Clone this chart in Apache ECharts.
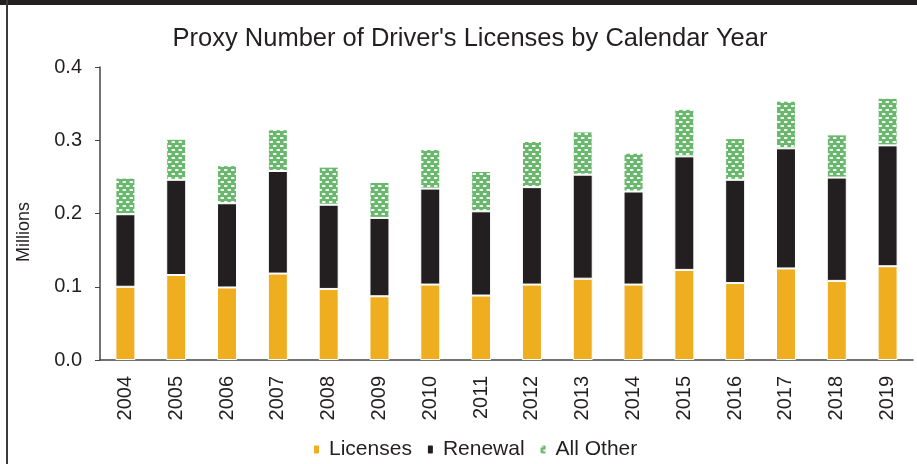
<!DOCTYPE html>
<html>
<head>
<meta charset="utf-8">
<script src="https://cdn.jsdelivr.net/npm/echarts@6/dist/echarts.min.js"></script>
<style>
  html, body { margin: 0; padding: 0; background: #fff; }
  #main { width: 917px; height: 464px; }
</style>
</head>
<body>
<div id="main"></div>
<script>
var years = ['2004', '2005', '2006', '2007', '2008', '2009', '2010', '2011',
             '2012', '2013', '2014', '2015', '2016', '2017', '2018', '2019'];
// millions
var licenses = [0.100, 0.116, 0.099, 0.118, 0.097, 0.087, 0.103, 0.088,
                0.103, 0.111, 0.103, 0.123, 0.105, 0.125, 0.108, 0.128];
var renewal = [0.099, 0.130, 0.115, 0.140, 0.115, 0.107, 0.131, 0.115,
               0.133, 0.142, 0.127, 0.155, 0.141, 0.164, 0.141, 0.165];
var allOther = [0.050, 0.056, 0.052, 0.057, 0.052, 0.049, 0.054, 0.055,
                0.063, 0.059, 0.053, 0.065, 0.057, 0.065, 0.059, 0.065];
var yTicks = ['0.0', '0.1', '0.2', '0.3', '0.4'];

var txt = '#231f20';
var font = 'Liberation Sans, Arial, sans-serif';

// green fill with little white dashes, like the excel pattern
function dotPattern() {
    var c = document.createElement('canvas');
    c.width = 7;
    c.height = 8;
    var ctx = c.getContext('2d');
    ctx.fillStyle = '#6ab86d';
    ctx.fillRect(0, 0, 7, 8);
    ctx.fillStyle = '#ffffff';
    ctx.beginPath();
    ctx.ellipse(1.75, 2, 2, 1.1, 0, 0, Math.PI * 2);
    ctx.fill();
    ctx.beginPath();
    ctx.ellipse(5.25, 6, 2, 1.1, 0, 0, Math.PI * 2);
    ctx.fill();
    return c;
}

var myChart = echarts.init(document.getElementById('main'));
myChart.setOption({
    animation: false,
    backgroundColor: '#fff',
    title: {
        text: "Proxy Number of Driver's Licenses by Calendar Year",
        left: 465,
        textAlign: 'center',
        top: 21,
        textStyle: { fontFamily: font, fontSize: 25.5, fontWeight: 'normal', color: txt }
    },
    legend: {
        top: 439,
        left: 312,
        padding: 0,
        itemWidth: 7,
        itemHeight: 10,
        itemGap: 14,
        textStyle: { fontFamily: font, fontSize: 21, color: txt, padding: [0, 0, 0, 4] },
        data: ['Licenses', 'Renewal', 'All Other']
    },
    graphic: [
        { type: 'rect', shape: { x: 0, y: 0, width: 917, height: 5 }, style: { fill: '#231f20' } },
        { type: 'rect', shape: { x: 6, y: 0, width: 2, height: 464 }, style: { fill: '#3a3a3a' } },
        {
            type: 'text', x: 24, y: 232, rotation: Math.PI / 2,
            style: {
                text: 'Millions', fontFamily: font, fontSize: 18, fill: txt,
                textAlign: 'center', textVerticalAlign: 'middle'
            }
        }
    ],
    grid: { left: 100, right: 4, top: 67, bottom: 104 },
    xAxis: {
        type: 'category',
        data: years,
        axisLine: { lineStyle: { color: '#444', width: 1.5 } },
        axisTick: { length: 5, lineStyle: { color: '#444' } },
        axisLabel: { rotate: 90, margin: 16, fontFamily: font, fontSize: 20, color: txt }
    },
    yAxis: {
        type: 'value',
        min: 0,
        max: 0.4,
        interval: 0.1,
        splitLine: { show: false },
        axisLine: { show: true, lineStyle: { color: '#444', width: 1.5 } },
        axisTick: { show: true, length: 5, lineStyle: { color: '#444' } },
        axisLabel: {
            margin: 18, fontFamily: font, fontSize: 20, color: txt,
            formatter: function (v) { return yTicks[Math.round(v * 10)]; }
        }
    },
    series: [
        {
            name: 'Licenses', type: 'bar', stack: 'all', barWidth: 20,
            itemStyle: { color: '#efad20', borderColor: '#fff', borderWidth: 1 },
            data: licenses
        },
        {
            name: 'Renewal', type: 'bar', stack: 'all', barWidth: 20,
            itemStyle: { color: '#231f20', borderColor: '#fff', borderWidth: 1 },
            data: renewal
        },
        {
            name: 'All Other', type: 'bar', stack: 'all', barWidth: 20,
            itemStyle: { color: { image: dotPattern(), repeat: 'repeat' }, borderColor: '#fff', borderWidth: 1 },
            data: allOther
        }
    ]
});
</script>
</body>
</html>
